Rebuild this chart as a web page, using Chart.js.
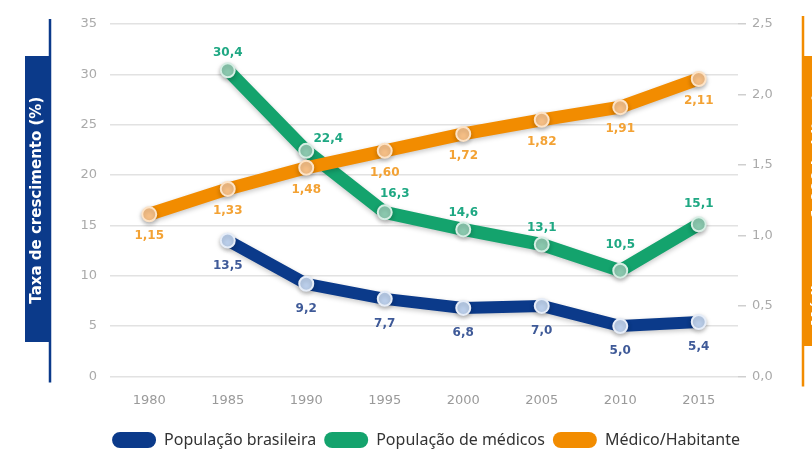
<!DOCTYPE html>
<html lang="pt-BR">
<head>
<meta charset="utf-8">
<script src="https://cdn.jsdelivr.net/npm/chart.js@4.4.1/dist/chart.umd.min.js"></script>
<style>
  body { margin: 0; background: #fff; }
  #caixa { width: 812px; height: 454px; position: relative; }
</style>
</head>
<body>
<div id="caixa"><canvas id="grafico"></canvas></div>
<script>
const anos = ['1980', '1985', '1990', '1995', '2000', '2005', '2010', '2015'];
const popBrasileira = [null, 13.5, 9.2, 7.7, 6.8, 7.0, 5.0, 5.4];
const popMedicos = [null, 30.4, 22.4, 16.3, 14.6, 13.1, 10.5, 15.1];
const medicoHabitante = [1.15, 1.33, 1.48, 1.60, 1.72, 1.82, 1.91, 2.11];
const escalaEsq = { min: 0, max: 35, passo: 5 };
const escalaDir = { min: 0, max: 2.5, passo: 0.5 };

const tituloEsq = 'Taxa de crescimento (%)';
const tituloDir = 'Médicos por 1.000 habitantes';

const azul = '#0b3a8a';
const verde = '#14a36d';
const laranja = '#f28c00';

// deslocamento dos rótulos (alguns pontos fogem do padrão)
const ajustesVerde = { 2: { dx: 22, dy: -12 }, 3: { dx: 10, dy: -18 }, 6: { dy: -26 }, 7: { dy: -20 } };

const fmt = (v, casas) => v.toFixed(casas).replace('.', ',');

const sombraPlugin = {
  id: 'sombra',
  beforeDatasetDraw(chart) {
    const ctx = chart.ctx;
    ctx.save();
    ctx.shadowColor = 'rgba(0,0,0,0.22)';
    ctx.shadowBlur = 5;
    ctx.shadowOffsetY = 2;
  },
  afterDatasetDraw(chart) {
    chart.ctx.restore();
  }
};

const rotulosPlugin = {
  id: 'rotulos',
  afterDatasetsDraw(chart) {
    const ctx = chart.ctx;
    chart.data.datasets.forEach((ds, i) => {
      const meta = chart.getDatasetMeta(i);
      meta.data.forEach((pt, j) => {
        const v = ds.data[j];
        if (v == null) return;
        const aj = (ds.ajustes && ds.ajustes[j]) || {};
        const dx = aj.dx || 0;
        const dy = aj.dy !== undefined ? aj.dy : ds.rotuloDy;
        ctx.save();
        ctx.font = 'bold 12px "DejaVu Sans"';
        ctx.fillStyle = ds.rotuloCor;
        ctx.textAlign = 'center';
        ctx.textBaseline = 'middle';
        ctx.fillText(fmt(v, ds.casas), pt.x + dx, pt.y + dy);
        ctx.restore();
      });
    });
  }
};

// faixas dos títulos dos eixos
const titulosPlugin = {
  id: 'titulos',
  afterDraw(chart) {
    const ctx = chart.ctx;
    const a = chart.chartArea;
    const meio = (a.top + a.bottom) / 2;
    ctx.save();
    // esquerda
    ctx.strokeStyle = azul;
    ctx.lineWidth = 2.5;
    ctx.beginPath();
    ctx.moveTo(50, a.top - 5);
    ctx.lineTo(50, a.bottom + 6);
    ctx.stroke();
    ctx.fillStyle = azul;
    ctx.fillRect(25, a.top + 32, 25, 286);
    ctx.translate(37.5, meio);
    ctx.rotate(-Math.PI / 2);
    ctx.fillStyle = '#fff';
    ctx.font = 'bold 15px "DejaVu Sans"';
    ctx.textAlign = 'center';
    ctx.textBaseline = 'middle';
    ctx.fillText(tituloEsq, 0, 0);
    ctx.restore();

    // direita
    ctx.save();
    ctx.strokeStyle = laranja;
    ctx.lineWidth = 2.5;
    ctx.beginPath();
    ctx.moveTo(803, a.top - 8);
    ctx.lineTo(803, a.bottom + 10);
    ctx.stroke();
    ctx.fillStyle = laranja;
    ctx.fillRect(804, a.top + 32, 30, 290);
    ctx.translate(819, meio);
    ctx.rotate(-Math.PI / 2);
    ctx.fillStyle = '#fff';
    ctx.font = 'bold 15px "DejaVu Sans"';
    ctx.textAlign = 'center';
    ctx.textBaseline = 'middle';
    ctx.fillText(tituloDir, 0, 0);
    ctx.restore();
  }
};

const ctx = document.getElementById('grafico').getContext('2d');
new Chart(ctx, {
  type: 'line',
  data: {
    labels: anos,
    datasets: [
      {
        label: 'População brasileira',
        data: popBrasileira,
        yAxisID: 'y',
        borderColor: azul,
        backgroundColor: azul,
        borderWidth: 12,
        pointBackgroundColor: '#bcd0ec',
        pointBorderColor: '#e6edf8',
        pointBorderWidth: 2,
        pointRadius: 7,
        order: 2,
        rotuloCor: '#3f5a98',
        rotuloDy: 25,
        casas: 1
      },
      {
        label: 'População de médicos',
        data: popMedicos,
        yAxisID: 'y',
        borderColor: verde,
        backgroundColor: verde,
        borderWidth: 13,
        pointBackgroundColor: '#8ccab0',
        pointBorderColor: '#d6eee4',
        pointBorderWidth: 2,
        pointRadius: 7,
        order: 1,
        rotuloCor: '#1fa883',
        rotuloDy: -17,
        ajustes: ajustesVerde,
        casas: 1
      },
      {
        label: 'Médico/Habitante',
        data: medicoHabitante,
        yAxisID: 'y1',
        borderColor: laranja,
        backgroundColor: laranja,
        borderWidth: 13,
        pointBackgroundColor: '#f7c087',
        pointBorderColor: '#fde3c6',
        pointBorderWidth: 2,
        pointRadius: 7,
        order: 0,
        rotuloCor: '#f3a234',
        rotuloDy: 22,
        casas: 2
      }
    ]
  },
  options: {
    responsive: true,
    maintainAspectRatio: false,
    animation: false,
    layout: { padding: { top: 24, left: 40, right: 0, bottom: -4 } },
    datasets: { line: { borderJoinStyle: 'round', borderCapStyle: 'round', tension: 0 } },
    scales: {
      x: {
        offset: true,
        grid: { display: false, drawTicks: false },
        border: { display: false },
        ticks: { color: '#9a9a9a', font: { family: 'DejaVu Sans', size: 13 }, padding: 16 }
      },
      y: {
        position: 'left',
        min: escalaEsq.min,
        max: escalaEsq.max,
        afterFit: s => { s.width = 70; },
        border: { display: false },
        grid: { color: '#e2e2e2', lineWidth: 1.5, drawTicks: false },
        ticks: { stepSize: escalaEsq.passo, color: '#aaa', font: { family: 'DejaVu Sans', size: 13 }, padding: 13 }
      },
      y1: {
        position: 'right',
        min: escalaDir.min,
        max: escalaDir.max,
        afterFit: s => { s.width = 74; },
        border: { display: false },
        grid: { drawOnChartArea: false, color: '#cfcfcf', lineWidth: 1.5, tickLength: 8 },
        ticks: {
          stepSize: escalaDir.passo, color: '#aaa', font: { family: 'DejaVu Sans', size: 13 }, padding: 6,
          callback: v => fmt(v, 1)
        }
      }
    },
    plugins: {
      tooltip: { enabled: false },
      legend: {
        position: 'bottom',
        labels: {
          color: '#333',
          font: { family: 'Noto Sans', size: 16 },
          boxWidth: 44,
          boxHeight: 16,
          useBorderRadius: true,
          borderRadius: 8,
          padding: 8,
          sort: (a, b) => a.datasetIndex - b.datasetIndex,
          generateLabels: chart => Chart.defaults.plugins.legend.labels.generateLabels(chart)
            .map(item => Object.assign(item, { lineWidth: 0 }))
        }
      }
    }
  },
  plugins: [sombraPlugin, rotulosPlugin, titulosPlugin]
});
</script>
</body>
</html>
